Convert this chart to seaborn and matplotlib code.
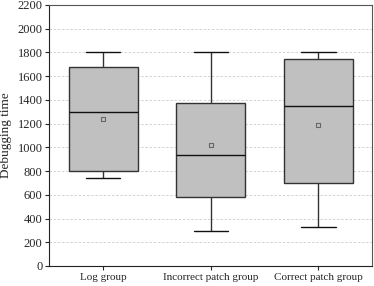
import matplotlib
matplotlib.use("Agg")
import matplotlib.pyplot as plt
import seaborn as sns
import pandas as pd

groups = ["Log group", "Incorrect patch group", "Correct patch group"]
# five-number summaries: min, Q1, median, Q3, max
whisker_low = [740, 295, 325]
q1 = [800, 585, 700]
median = [1300, 935, 1345]
q3 = [1675, 1370, 1745]
whisker_high = [1800, 1800, 1800]
means = [1240, 1020, 1190]

sns.set_style("ticks")
plt.rcParams["font.family"] = ["Liberation Serif", "DejaVu Serif"]

rows = []
for i, g in enumerate(groups):
    for v in (whisker_low[i], q1[i], median[i], q3[i], whisker_high[i]):
        rows.append({"group": g, "time": v})
df = pd.DataFrame(rows)
df_mean = pd.DataFrame({"group": groups, "time": means})

fig, ax = plt.subplots(figsize=(3.74, 2.86), dpi=100)
fig.subplots_adjust(left=0.132, right=0.995, top=0.983, bottom=0.07)

sns.boxplot(data=df, x="group", y="time", order=groups, whis=(0, 100),
            width=0.64, color="#c0c0c0", linewidth=1.0, saturation=1,
            boxprops=dict(facecolor="#c0c0c0", edgecolor="#333333"),
            whiskerprops=dict(color="#333333"),
            capprops=dict(color="#111111"),
            medianprops=dict(color="#111111", linewidth=1.0),
            ax=ax)
sns.scatterplot(data=df_mean, x="group", y="time", marker="s", s=9,
                facecolor="none", edgecolor="#666666", linewidth=0.8, ax=ax,
                zorder=5)

ax.set_ylim(0, 2200)
ax.set_xlim(-0.5, 2.5)
ax.set_yticks(range(0, 2201, 200))
ax.yaxis.grid(True, linestyle=(0, (3, 2)), color="#cccccc", linewidth=0.6)
ax.set_axisbelow(True)
ax.set_xlabel("")
ax.set_ylabel("Debugging time", fontsize=9.5)
ax.tick_params(axis="y", labelsize=9, length=3, width=0.8, pad=2)
ax.tick_params(axis="x", labelsize=8, length=3, width=0.8, pad=2)
for s in ax.spines.values():
    s.set_color("#555555")
    s.set_linewidth(0.8)
ax.spines["left"].set_color("#222222")
ax.spines["bottom"].set_color("#222222")

fig.savefig("out.png", dpi=100)
